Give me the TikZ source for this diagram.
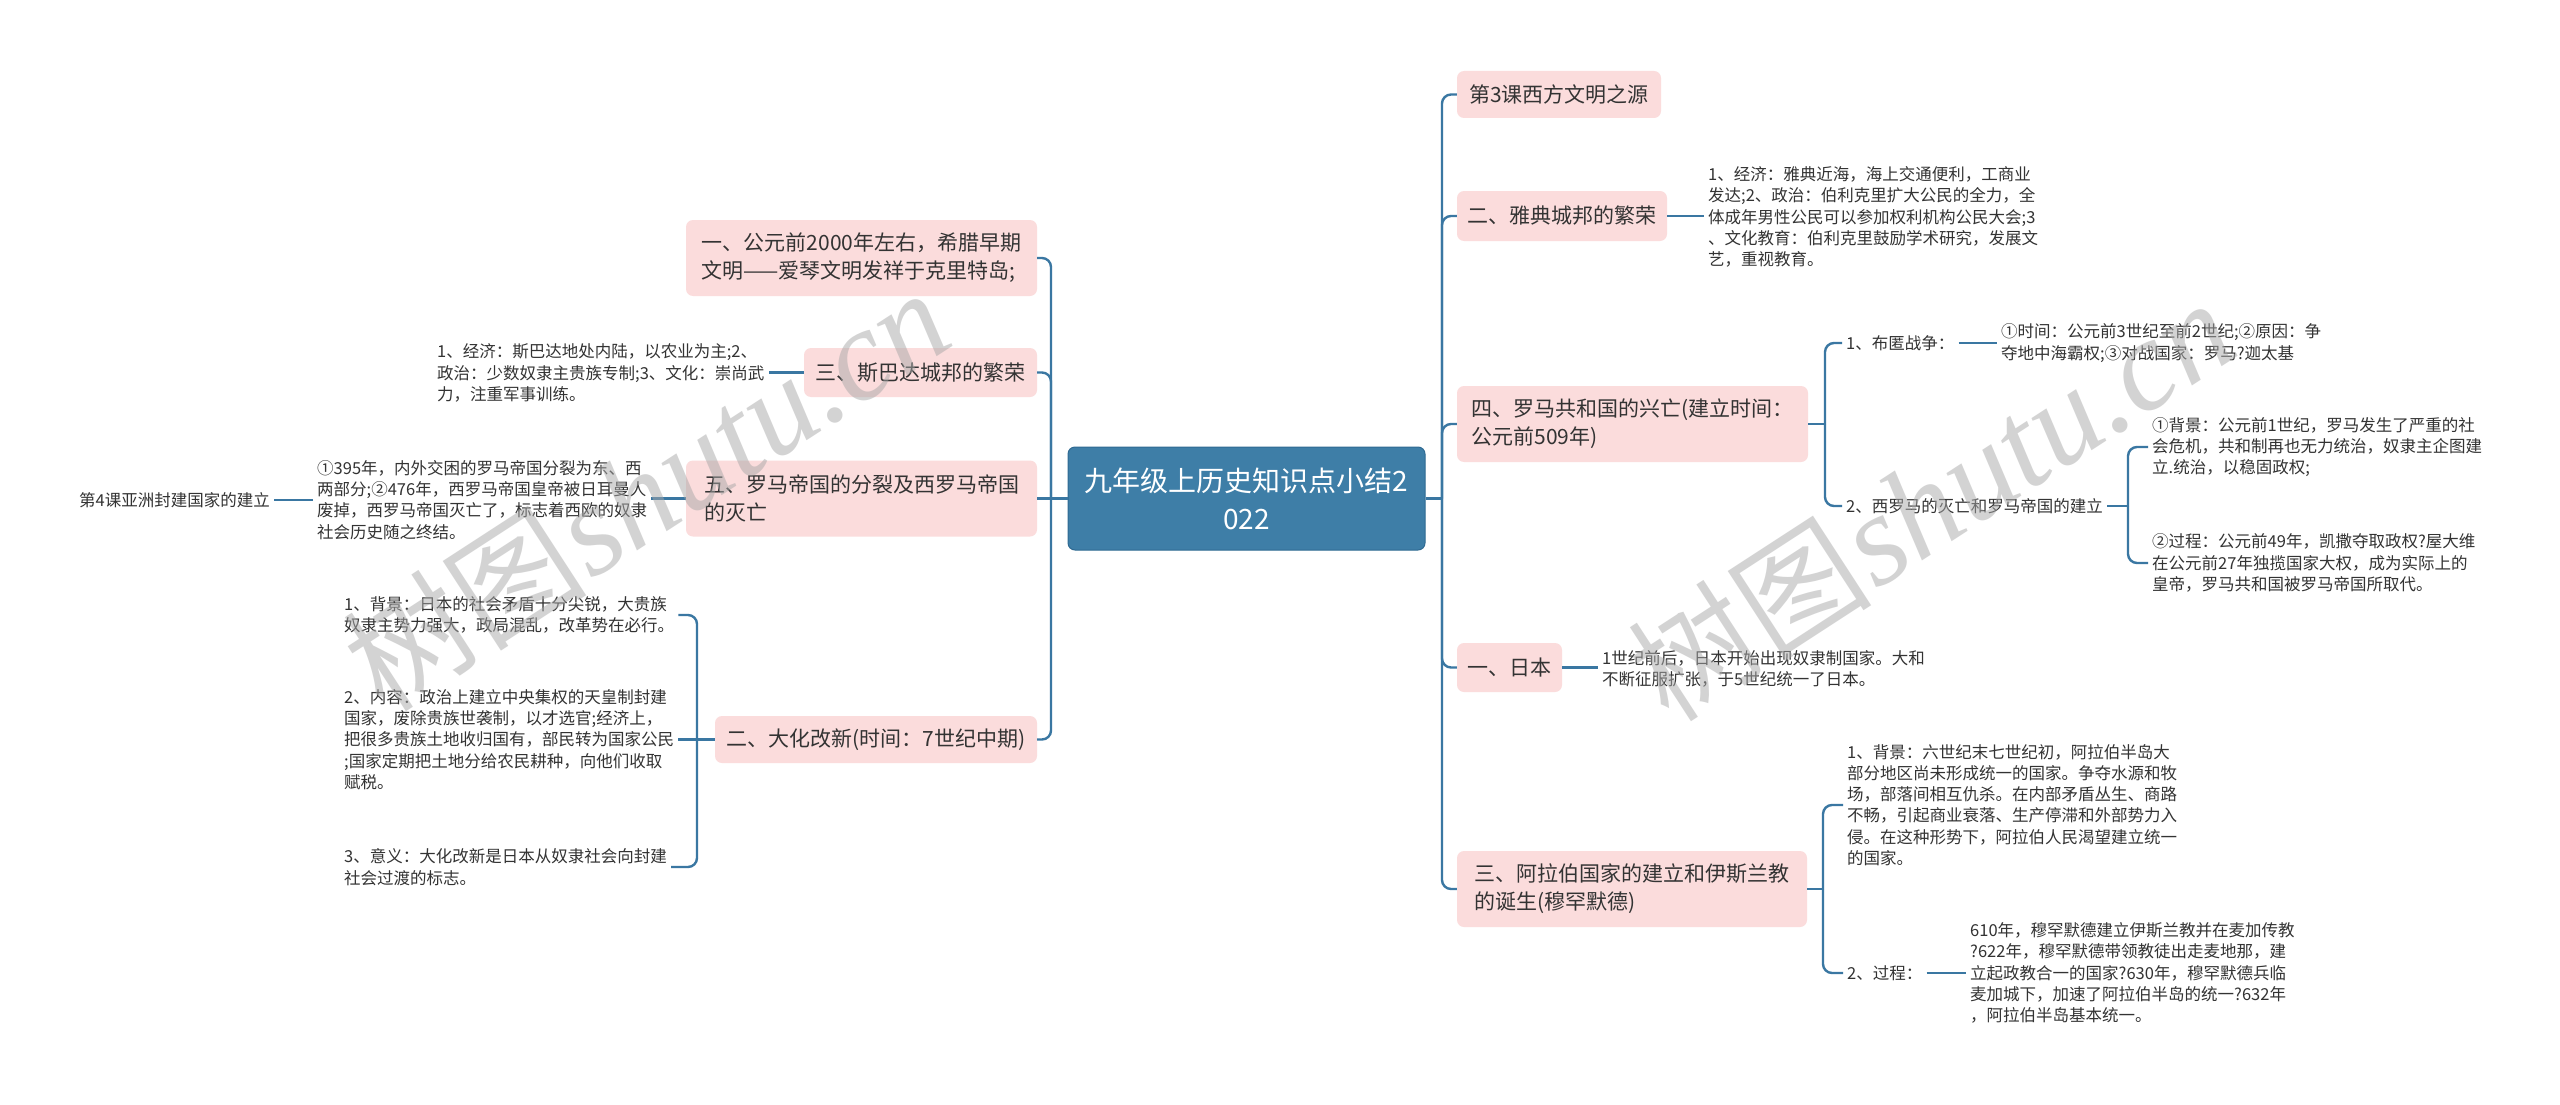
\documentclass[tikz,border=0pt]{standalone}
\usepackage{fontspec}
\setmainfont{Noto Sans CJK SC}
\newfontfamily\wmlatin{Liberation Serif}
\newfontfamily\wmcjk{Noto Sans CJK SC}
\definecolor{lc}{HTML}{3A77A2}
\definecolor{rc}{HTML}{3E7EA7}
\definecolor{rcd}{HTML}{2F6A92}
\definecolor{pk}{HTML}{FBDCDC}
\definecolor{tc}{HTML}{333333}
\definecolor{wm}{HTML}{A8A8A8}
\tikzset{
  conn/.style={draw=lc, line width=2.4pt, rounded corners=9pt},
  pinkbox/.style={fill=pk, rounded corners=7pt, align=left, inner xsep=10pt, inner ysep=0pt,
    font=\fontsize{21}{28}\selectfont, text=tc},
  leaf/.style={align=left, inner xsep=4pt, inner ysep=2pt, font=\fontsize{16.5}{21.3}\selectfont, text=tc},
  rootbox/.style={fill=rc, draw=rcd, line width=1pt, rounded corners=7pt, align=center, text=white,
    font=\fontsize{28}{38}\selectfont},
  wmark/.style={rotate=33, text=wm, opacity=0.5, inner sep=0pt}
}
\begin{document}
\begin{tikzpicture}[x=1pt,y=-1pt]
\useasboundingbox (0,0) rectangle (2560,1105);
\fill[white] (0,0) rectangle (2560,1105);

% root
\node[rootbox, minimum width=357pt, minimum height=103pt] (root) at (1246.5,498.5) {九年级上历史知识点小结2\\022};

% right main branches
\node[pinkbox, minimum width=204pt, minimum height=47pt] (R1) at (1559,94.5) {第3课西方文明之源};
\node[pinkbox, minimum width=210pt, minimum height=50pt] (R2) at (1562,216) {二、雅典城邦的繁荣};
\node[pinkbox, minimum width=351pt, minimum height=76pt] (R3) at (1632.5,424) {四、罗马共和国的兴亡(建立时间：\\公元前509年)};
\node[pinkbox, minimum width=105pt, minimum height=49pt] (R4) at (1509.5,667.5) {一、日本};
\node[pinkbox, minimum width=350pt, minimum height=76pt] (R5) at (1632,889) {三、阿拉伯国家的建立和伊斯兰教\\的诞生(穆罕默德)};

% left main branches
\node[pinkbox, minimum width=351pt, minimum height=76pt] (L1) at (861.5,258) {一、公元前2000年左右，希腊早期\\文明——爱琴文明发祥于克里特岛;};
\node[pinkbox, minimum width=233pt, minimum height=49pt] (L2) at (920.5,372.5) {三、斯巴达城邦的繁荣};
\node[pinkbox, minimum width=351pt, minimum height=76pt] (L3) at (861.5,498.5) {五、罗马帝国的分裂及西罗马帝国\\的灭亡};
\node[pinkbox, minimum width=322pt, minimum height=47pt] (L4) at (876,739.5) {二、大化改新(时间：7世纪中期)};

% right leaves
\node[leaf, anchor=west] (R2a) at (1704,217) {1、经济：雅典近海，海上交通便利，工商业\\发达;2、政治：伯利克里扩大公民的全力，全\\体成年男性公民可以参加权利机构公民大会;3\\、文化教育：伯利克里鼓励学术研究，发展文\\艺，重视教育。};
\node[leaf, anchor=west] (R3a) at (1842,343) {1、布匿战争：};
\node[leaf, anchor=west] (R3aa) at (1997,343) {①时间：公元前3世纪至前2世纪;②原因：争\\夺地中海霸权;③对战国家：罗马?迦太基};
\node[leaf, anchor=west] (R3b) at (1842,506) {2、西罗马的灭亡和罗马帝国的建立};
\node[leaf, anchor=west] (R3b1) at (2148,447) {①背景：公元前1世纪，罗马发生了严重的社\\会危机，共和制再也无力统治，奴隶主企图建\\立.统治，以稳固政权;};
\node[leaf, anchor=west] (R3b2) at (2148,563) {②过程：公元前49年，凯撒夺取政权?屋大维\\在公元前27年独揽国家大权，成为实际上的\\皇帝，罗马共和国被罗马帝国所取代。};
\node[leaf, anchor=west] (R4a) at (1598,669) {1世纪前后，日本开始出现奴隶制国家。大和\\不断征服扩张，于5世纪统一了日本。};
\node[leaf, anchor=west] (R5a) at (1843,805) {1、背景：六世纪末七世纪初，阿拉伯半岛大\\部分地区尚未形成统一的国家。争夺水源和牧\\场，部落间相互仇杀。在内部矛盾丛生、商路\\不畅，引起商业衰落、生产停滞和外部势力入\\侵。在这种形势下，阿拉伯人民渴望建立统一\\的国家。};
\node[leaf, anchor=west] (R5b) at (1843,973) {2、过程：};
\node[leaf, anchor=west] (R5bb) at (1966,973) {610年，穆罕默德建立伊斯兰教并在麦加传教\\?622年，穆罕默德带领教徒出走麦地那，建\\立起政教合一的国家?630年，穆罕默德兵临\\麦加城下，加速了阿拉伯半岛的统一?632年\\，阿拉伯半岛基本统一。};

% left leaves
\node[leaf, anchor=west] (L2a) at (433,373) {1、经济：斯巴达地处内陆，以农业为主;2、\\政治：少数奴隶主贵族专制;3、文化：崇尚武\\力，注重军事训练。};
\node[leaf, anchor=west] (L3a) at (313,500) {①395年，内外交困的罗马帝国分裂为东、西\\两部分;②476年，西罗马帝国皇帝被日耳曼人\\废掉，西罗马帝国灭亡了，标志着西欧的奴隶\\社会历史随之终结。};
\node[leaf, anchor=west] (L3b) at (75,500) {第4课亚洲封建国家的建立};
\node[leaf, anchor=west] (L4a) at (340,615) {1、背景：日本的社会矛盾十分尖锐，大贵族\\奴隶主势力强大，政局混乱，改革势在必行。};
\node[leaf, anchor=west] (L4b) at (340,739.5) {2、内容：政治上建立中央集权的天皇制封建\\国家，废除贵族世袭制，以才选官;经济上，\\把很多贵族土地收归国有，部民转为国家公民\\;国家定期把土地分给农民耕种，向他们收取\\赋税。};
\node[leaf, anchor=west] (L4c) at (340,867) {3、意义：大化改新是日本从奴隶社会向封建\\社会过渡的标志。};

% right connectors
\coordinate (rj) at (1442,498.5);
\draw[conn] (root.east) -- (rj);
\foreach \n in {R1,R2,R3,R4,R5} \draw[conn] (rj) |- (\n.west);
\draw[conn] (R2.east) -- (R2.east -| R2a.west);
\coordinate (r3j) at (1825,424);
\draw[conn] (R3.east) -- (r3j);
\draw[conn] (r3j) |- (R3a.west);
\draw[conn] (r3j) |- (R3b.west);
\draw[conn] (R3a.east) -- (R3a.east -| R3aa.west);
\coordinate (r3bj) at (2128,506);
\draw[conn] (R3b.east) -- (r3bj);
\draw[conn] (r3bj) |- (R3b1.west);
\draw[conn] (r3bj) |- (R3b2.west);
\draw[conn] (R4.east) -- (R4.east -| R4a.west);
\coordinate (r5j) at (1823,889);
\draw[conn] (R5.east) -- (r5j);
\draw[conn] (r5j) |- (R5a.west);
\draw[conn] (r5j) |- (R5b.west);
\draw[conn] (R5b.east) -- (R5b.east -| R5bb.west);

% left connectors
\coordinate (lj) at (1051,498.5);
\draw[conn] (root.west) -- (lj);
\foreach \n in {L1,L2,L4} \draw[conn] (lj) |- (\n.east);
\draw[conn] (lj) -- (lj -| L3.east);
\draw[conn] (L2.west) -- (L2.west -| L2a.east);
\draw[conn] (L3.west) -- (L3.west -| L3a.east);
\draw[conn] (L3a.west) -- (L3a.west -| L3b.east);
\coordinate (l4j) at (697,739.5);
\draw[conn] (L4.west) -- (l4j);
\draw[conn] (l4j) |- (L4a.east);
\draw[conn] (l4j) -- (l4j -| L4b.east);
\draw[conn] (l4j) |- (L4c.east);

% watermarks
\node[wmark] (wm1) at (646,490) {{\wmcjk\fontsize{122}{122}\selectfont 树图} {\wmlatin\itshape\fontsize{130}{130}\selectfont shutu.cn}};
\node[wmark] (wm2) at (1931,500) {{\wmcjk\fontsize{122}{122}\selectfont 树图} {\wmlatin\itshape\fontsize{130}{130}\selectfont shutu.cn}};
\end{tikzpicture}
\end{document}
